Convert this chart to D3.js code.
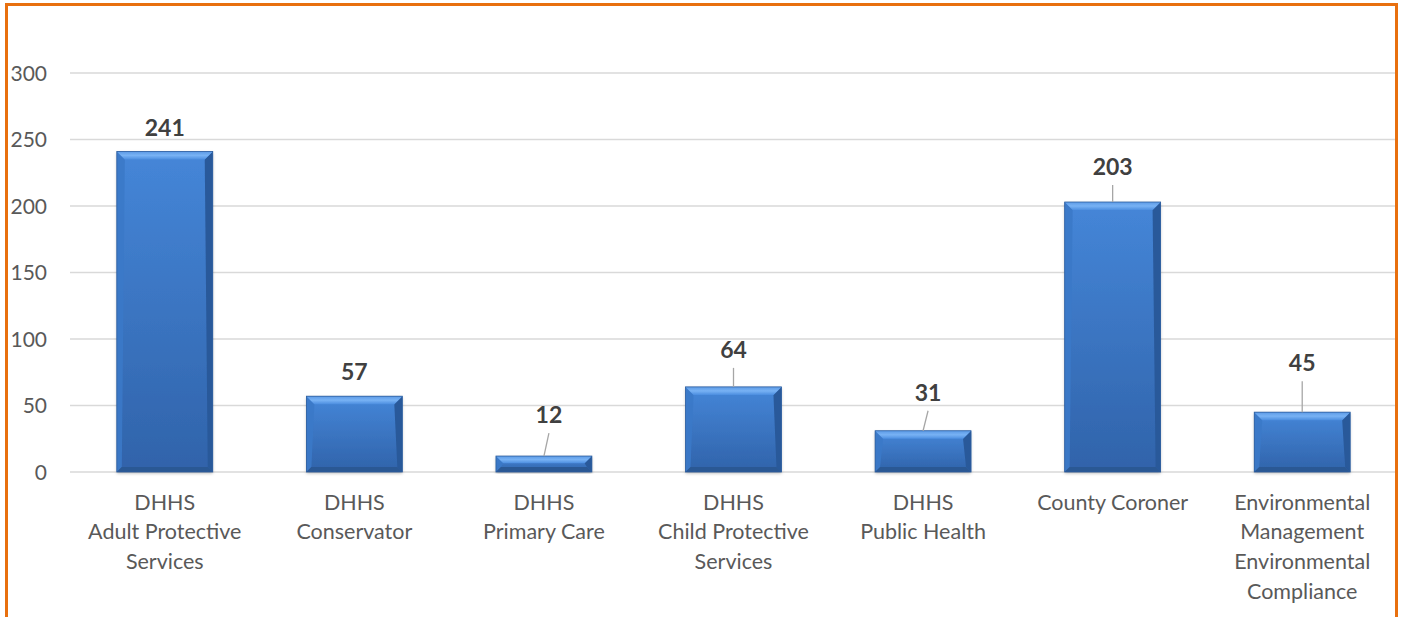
<!DOCTYPE html>
<html><head><meta charset="utf-8">
<script src="https://cdn.jsdelivr.net/npm/d3@7"></script>
<style>html,body{margin:0;padding:0;background:#fff;overflow:hidden}</style>
</head><body>
<svg id="c" width="1402" height="617"></svg>
<script>
const categories = [
  ["DHHS","Adult Protective","Services"],
  ["DHHS","Conservator"],
  ["DHHS","Primary Care"],
  ["DHHS","Child Protective","Services"],
  ["DHHS","Public Health"],
  ["County Coroner"],
  ["Environmental","Management","Environmental","Compliance"]
];
const values = [241, 57, 12, 64, 31, 203, 45];
const yTicks = [0, 50, 100, 150, 200, 250, 300];

// label layout (px lift above bar top, px horizontal shift)
const labelLift = [24, 24, 41, 37, 38, 35, 49];
const labelShift = [0, 0, 5, 0, 5, 0, 0];

const svg = d3.select("#c");
const font = "Lato, 'Open Sans', sans-serif";
const W = 1402, H = 617;
const m = {left: 70};

// border
svg.append("path").attr("d", `M6.5,${H} V4.5 H1396.5 V${H}`)
  .attr("fill","none").attr("stroke","#e8700f").attr("stroke-width",3);

const x = d3.scaleBand().domain(d3.range(values.length)).range([m.left, 1397]).paddingInner(0.494).paddingOuter(0.247);
const y = d3.scaleLinear().domain([0, 350]).range([472, 472 - 350*66.5/50]);

// grid
const grid = svg.append("g");
grid.selectAll("line").data(yTicks).join("line")
  .attr("x1", m.left).attr("x2", 1395)
  .attr("y1", d => y(d)).attr("y2", d => y(d))
  .attr("stroke","#d9d9d9").attr("stroke-width",1.5);

const yAxis = d3.axisLeft(y).tickValues(yTicks).tickSize(0).tickPadding(0);
const ga = svg.append("g").attr("transform","translate(47,0)").call(yAxis);
ga.select(".domain").remove();
ga.selectAll("text").attr("font-family",font).attr("font-size",21).attr("fill","#595959").attr("dy","0.35em");

// gradients
const defs = svg.append("defs");
const g1 = defs.append("linearGradient").attr("id","gb").attr("x1",0).attr("y1",0).attr("x2",0).attr("y2",1);
g1.append("stop").attr("offset","0%").attr("stop-color","#4586d8");
g1.append("stop").attr("offset","100%").attr("stop-color","#3063aa");
const g2 = defs.append("linearGradient").attr("id","gt").attr("x1",0).attr("y1",0).attr("x2",0).attr("y2",1);
g2.append("stop").attr("offset","0%").attr("stop-color","#5c9ae6");
g2.append("stop").attr("offset","50%").attr("stop-color","#78b2f4");
g2.append("stop").attr("offset","100%").attr("stop-color","#4c8ee0");
const flt = defs.append("filter").attr("id","sh").attr("x","-10%").attr("y","-10%").attr("width","120%").attr("height","120%");
flt.append("feDropShadow").attr("dx",0).attr("dy",1.5).attr("stdDeviation",1.5).attr("flood-color","#000").attr("flood-opacity",0.25);

const bars = svg.append("g").selectAll("g").data(values).join("g");
const bv = 8;
bars.each(function(v, i) {
  const g = d3.select(this);
  const x0 = x(i), x1 = x(i) + x.bandwidth(), y0 = y(v), y1 = y(0);
  const b = Math.min(bv, (y1 - y0) / 2.2);
  const bs = Math.min(5, b);
  g.append("rect").attr("x", x0).attr("y", y0).attr("width", x1-x0).attr("height", y1-y0).attr("fill","url(#gb)").attr("filter","url(#sh)");
  // left bevel
  g.append("path").attr("d", `M${x0},${y0} L${x0+b},${y0+b} L${x0+bs},${y1-bs} L${x0},${y1} Z`).attr("fill","#3b79c8").attr("opacity",0.9);
  // right bevel
  g.append("path").attr("d", `M${x1},${y0} L${x1-b},${y0+b} L${x1-bs},${y1-bs} L${x1},${y1} Z`).attr("fill","#29599a");
  // bottom bevel
  g.append("path").attr("d", `M${x0},${y1} L${x0+bs},${y1-bs} L${x1-bs},${y1-bs} L${x1},${y1} Z`).attr("fill","#2a5894");
  // top bevel
  g.append("path").attr("d", `M${x0},${y0} L${x1},${y0} L${x1-b},${y0+b} L${x0+b},${y0+b} Z`).attr("fill","url(#gt)");
  g.append("rect").attr("x", x0).attr("y", y0).attr("width", x1-x0).attr("height", y1-y0).attr("fill","none").attr("stroke","#2d5e9e").attr("stroke-width",0.8);

  const cx = x0 + x.bandwidth()/2;
  const lift = labelLift[i], sh = labelShift[i];
  if (lift > 30) {
    g.append("line").attr("x1", cx).attr("y1", y0).attr("x2", cx + sh).attr("y2", y0 - lift + 18)
      .attr("stroke","#a6a6a6").attr("stroke-width",1.3);
  }
  g.append("text").attr("x", cx + sh).attr("y", y0 - lift).attr("dy","0.35em")
    .attr("text-anchor","middle").attr("font-family",font).attr("font-weight","bold")
    .attr("font-size",23).attr("fill","#404040").text(v);
});

// category labels
const cl = svg.append("g");
categories.forEach((lines, i) => {
  const t = cl.append("text").attr("text-anchor","middle").attr("font-family",font)
    .attr("font-size",21.5).attr("fill","#595959");
  lines.forEach((s, k) => {
    t.append("tspan").attr("x", x(i) + x.bandwidth()/2).attr("y", 502 + k*29.7).attr("dy","0.35em").text(s);
  });
});
</script>
</body></html>
